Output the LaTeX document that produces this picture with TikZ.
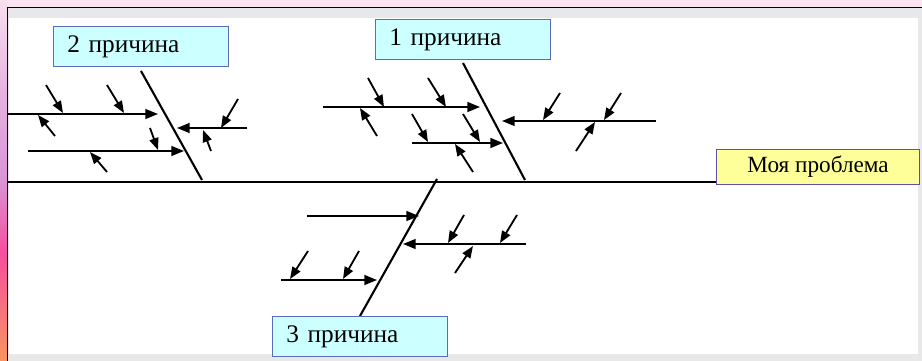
\documentclass[tikz,border=0pt]{standalone}
\usepackage{fontspec}
\setmainfont{Liberation Serif}
\newfontfamily\boxfont{Liberation Serif}
\usetikzlibrary{positioning, arrows.meta}

% colours of the boxes and of the slide frame
\definecolor{causefill}{HTML}{CCFFFF}
\definecolor{causeedge}{HTML}{5B6BC0}
\definecolor{effectfill}{HTML}{FFFF99}
\definecolor{effectedge}{HTML}{5E4FA8}
\definecolor{framepink}{HTML}{FBE4F1}
\definecolor{stripgray}{HTML}{E8E8E8}
\definecolor{barorange}{HTML}{F8955F}
\definecolor{barhot}{HTML}{F54E9E}
\definecolor{barorchid}{HTML}{D994D6}
\definecolor{barlight}{HTML}{F8DFEF}
\pgfdeclareverticalshading{sidebar}{100bp}{color(0bp)=(barorange); color(25bp)=(barorange);
  color(40bp)=(barhot); color(50bp)=(barorchid); color(62bp)=(barorchid!60!barlight);
  color(75bp)=(barlight); color(100bp)=(barlight)}

\tikzset{
  cause/.style={draw=causeedge, fill=causefill, line width=0.8pt, text width=3.675cm,
    inner xsep=0.35cm, minimum height=1cm, align=left,
    font=\boxfont\fontsize{18}{20}\selectfont},
  effect/.style={draw=effectedge, fill=effectfill, line width=0.8pt, minimum width=5.075cm,
    minimum height=0.875cm, font=\boxfont\fontsize{16.5}{18}\selectfont},
  bone/.style={line width=1.5pt},
  rib/.style={line width=1.3pt, -{Triangle[length=9pt,width=7pt]}},
  tick/.style={line width=1.3pt, -{Triangle[length=8.5pt,width=6.5pt]}}
}

\begin{document}
\begin{tikzpicture}[x=0.025cm, y=-0.025cm]
  \useasboundingbox (0,0) rectangle (922,361);

  % slide frame
  \fill[stripgray] (0,0) rectangle (922,361);
  \fill[white] (9,18) rectangle (918,354);
  \fill[framepink] (0,0) rectangle (922,7);
  \shade[shading=sidebar] (0,0) rectangle (7,361);
  \draw[line width=1.2pt] (7.5,361) -- (7.5,7.5) -- (922,7.5);

  % spine and effect
  \node[effect, anchor=south west] (problem) at (716,185) {Моя проблема};
  \coordinate (tail) at (8,182);
  \draw[line width=1.1pt] (tail) -- (tail -| problem.west);

  % main bones
  \coordinate (b2s) at (141,71);  \coordinate (b2e) at (202,180);
  \coordinate (b1s) at (463,63);  \coordinate (b1e) at (525,180);
  \coordinate (b3s) at (437,179); \coordinate (b3e) at (360,316);
  \draw[bone] (b2s) -- (b2e);
  \draw[bone] (b1s) -- (b1e);
  \draw[bone] (b3s) -- (b3e);

  % cause labels
  \node[cause, above=0.1cm of b2s] (cause2) {2 причина};
  \node[cause, above=0.07cm of b1s] (cause1) {1 причина};
  \node[cause, below=0pt of b3e] (cause3) {3 причина};

  % ribs
  \coordinate (r21s) at (8,114);   \coordinate (r21e) at (158,114);
  \coordinate (r22s) at (28,151);  \coordinate (r22e) at (184,151);
  \coordinate (r23s) at (247,128); \coordinate (r23e) at (177,128);
  \coordinate (r11s) at (323,107); \coordinate (r11e) at (480,107);
  \coordinate (r12s) at (412,143); \coordinate (r12e) at (503,143);
  \coordinate (r13s) at (656,121); \coordinate (r13e) at (502,121);
  \coordinate (r31s) at (307,216); \coordinate (r31e) at (419,216);
  \coordinate (r32s) at (526,244); \coordinate (r32e) at (403,244);
  \coordinate (r33s) at (281,280); \coordinate (r33e) at (377,280);
  \foreach \r in {21,22,23,11,12,13,31,32,33}
    \draw[rib] (r\r s) -- (r\r e);

  % small sub-causes
  \foreach \xa/\ya/\xb/\yb in {46/85/63/113, 107/85/124/113, 55/136/38/115,
      107/172/90/152, 150/128/158/150, 238/99/221/128, 211/151/203/130,
      368/78/384/107, 428/78/446/107, 377/136/360/108, 412/114/428/142,
      463/114/480/142, 473/172/455/144, 560/93/543/120, 621/93/604/120,
      576/151/595/122, 464/215/448/243, 517/215/500/243, 455/273/473/246,
      308/251/290/279, 359/251/343/279}
    \draw[tick] (\xa,\ya) -- (\xb,\yb);
\end{tikzpicture}
\end{document}
